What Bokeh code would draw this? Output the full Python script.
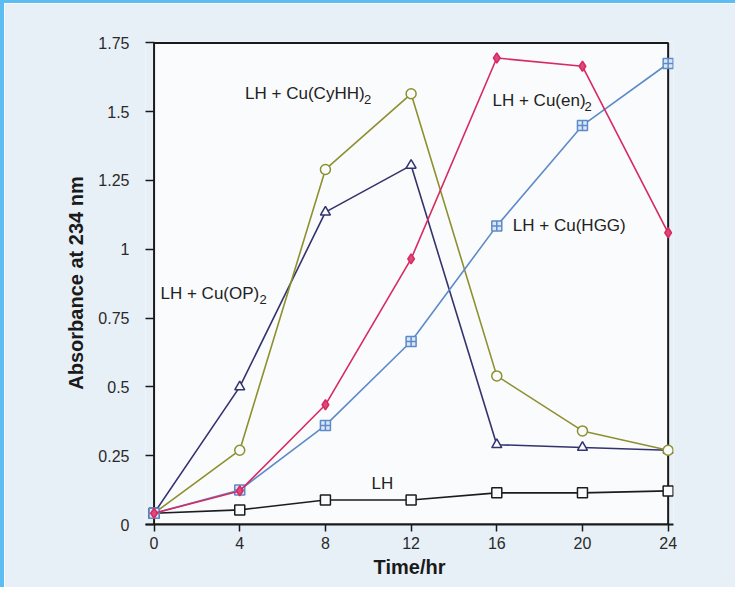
from bokeh.plotting import figure
from bokeh.models import Range1d, FixedTicker, ColumnDataSource
from bokeh.embed import file_html
from bokeh.resources import INLINE
from bokeh.core.properties import value

# ---- data ----
hours = [0, 4, 8, 12, 16, 20, 24]
lh = [0.041, 0.053, 0.089, 0.089, 0.115, 0.115, 0.122]
lh_op = [0.041, 0.500, 1.135, 1.305, 0.290, 0.280, 0.270]
lh_cyhh = [0.041, 0.270, 1.290, 1.565, 0.540, 0.340, 0.270]
lh_en = [0.041, 0.122, 0.435, 0.965, 1.695, 1.665, 1.060]
lh_hgg = [0.041, 0.125, 0.360, 0.665, 1.085, 1.450, 1.675]

x_ticks = [0, 4, 8, 12, 16, 20, 24]
y_ticks = [0, 0.25, 0.5, 0.75, 1.0, 1.25, 1.5, 1.75]
y_tick_labels = ["0", "0.25", "0.5", "0.75", "1", "1.25", "1.5", "1.75"]

series_names = ["LH", "LH + Cu(OP)", "LH + Cu(CyHH)", "LH + Cu(en)", "LH + Cu(HGG)"]
series_subscripts = ["", "2", "2", "2", ""]

# annotation anchor points (data coordinates) and subscript pixel offsets
label_x = [10.15, 0.3, 4.25, 15.8, 16.75]
label_y = [0.15, 0.84, 1.565, 1.54, 1.087]
sub_dx = [0, 99, 119, 92, 0]

FONT = "Liberation Sans"
PAGE_BG = "#e8f0f7"
FRAME_BG = "#fafbfc"
INK = "#1a1a1a"

p = figure(
    width=735, height=587,
    output_backend="svg", toolbar_location=None,
    x_range=Range1d(-0.4, 24.25), y_range=Range1d(0, 1.755),
    min_border_left=141, min_border_right=66, min_border_top=38, min_border_bottom=66,
    background_fill_color=PAGE_BG, border_fill_color=PAGE_BG,
)
p.styles = {"border-top": "3px solid #5bbdf2", "border-left": "4px solid #5bbdf2"}
p.outline_line_color = None
p.grid.visible = False

# white plot box with black frame (spans the tick range)
p.quad(left=[x_ticks[0]], right=[x_ticks[-1]], bottom=[y_ticks[0]], top=[y_ticks[-1]],
       fill_color=FRAME_BG, line_color=INK, line_width=2)

# axes
for ax in (p.xaxis[0], p.yaxis[0]):
    ax.axis_line_color = INK
    ax.axis_line_width = 2
    ax.major_tick_line_color = INK
    ax.major_tick_line_width = 1.5
    ax.minor_tick_line_color = None
    ax.major_label_text_font = FONT
    ax.major_label_text_font_size = "16px"
    ax.major_label_text_color = "#2a2a2a"
    ax.axis_label_text_font = FONT
    ax.axis_label_text_font_size = "20px"
    ax.axis_label_text_font_style = "bold"
    ax.axis_label_text_color = INK

p.xaxis.ticker = FixedTicker(ticks=x_ticks)
p.xaxis.major_tick_out = 7
p.xaxis.major_tick_in = 0
p.xaxis.axis_label = "Time/hr"
p.xaxis.major_label_standoff = 5
p.xaxis.axis_label_standoff = 4

p.yaxis.ticker = FixedTicker(ticks=y_ticks)
p.yaxis.major_label_overrides = {t: s for t, s in zip(y_ticks, y_tick_labels)}
p.yaxis.axis_line_color = None
p.yaxis.major_tick_out = 0
p.yaxis.major_tick_in = 9
p.yaxis.axis_label = "Absorbance at 234 nm"
p.yaxis.major_label_standoff = 16
p.yaxis.axis_label_standoff = 8

# series
styles = [
    (lh, "#1c1c1c", "square", FRAME_BG),
    (lh_op, "#33336e", "triangle", FRAME_BG),
    (lh_cyhh, "#8e9030", "circle", FRAME_BG),
    (lh_hgg, "#5d8ac8", "square_cross", "#dbe6f5"),
    (lh_en, "#d62a60", "diamond", "#e0487a"),
]
for vals, col, mk, fill in styles:
    src = ColumnDataSource(dict(x=hours, y=vals))
    p.line("x", "y", source=src, line_color=col, line_width=1.6)
    p.scatter("x", "y", source=src, marker=mk, size=10, line_color=col,
              fill_color=fill, line_width=1.5)

lab_src = ColumnDataSource(dict(x=label_x, y=label_y, t=series_names,
                                s=series_subscripts, dx=sub_dx))
p.text("x", "y", text="t", source=lab_src, text_font=value(FONT), text_font_size="17px",
       text_color="#222222", text_baseline="middle", text_align="left")
p.text("x", "y", text="s", source=lab_src, x_offset="dx", y_offset=6,
       text_font=value(FONT), text_font_size="13px",
       text_color="#222222", text_baseline="middle", text_align="left")

open("out.html", "w").write(file_html(p, INLINE))
